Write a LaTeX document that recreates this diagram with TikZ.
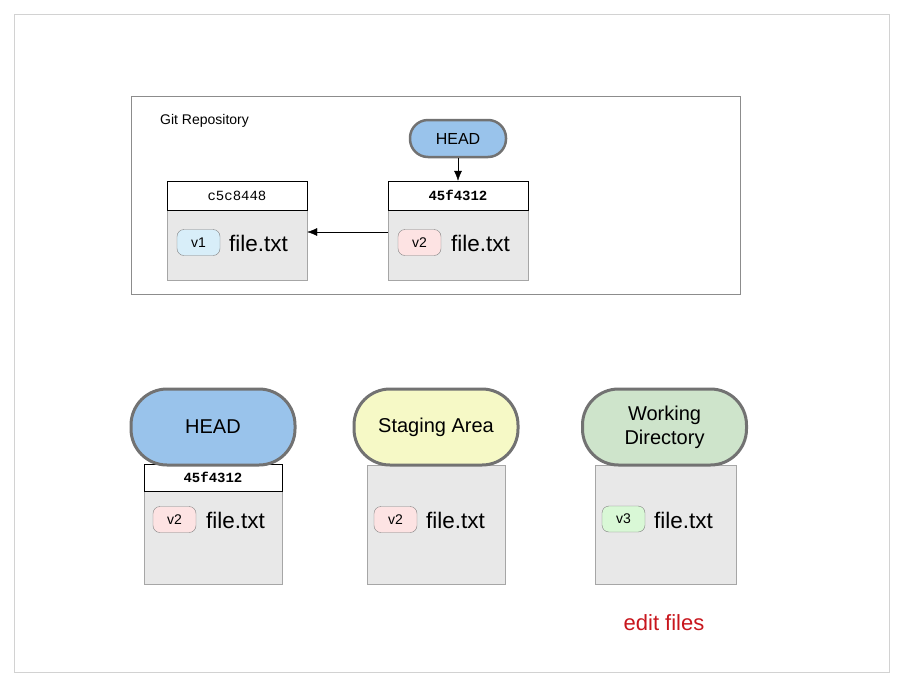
\documentclass[tikz,border=0pt]{standalone}
\usepackage{fontspec}
\setmainfont{Liberation Sans}
\setmonofont{Liberation Mono}
\usetikzlibrary{arrows.meta}
\definecolor{headblue}{HTML}{99C3EB}
\definecolor{stageyellow}{HTML}{F6F9C6}
\definecolor{workgreen}{HTML}{CEE4CB}
\definecolor{bodygray}{HTML}{E8E8E8}
\definecolor{pillgray}{HTML}{727272}
\definecolor{tagblue}{HTML}{D8EEF9}
\definecolor{tagpink}{HTML}{FDE3E3}
\definecolor{taggreen}{HTML}{D9F8D6}
\definecolor{editred}{HTML}{C8161D}
\begin{document}
\begin{tikzpicture}[x=1pt,y=-1pt]
  \tikzset{
    pill/.style={rounded corners=36pt, draw=pillgray, line width=3pt, minimum width=164pt,
      minimum height=76pt, inner sep=0pt, align=center, font=\fontsize{20}{24}\selectfont},
    small pill/.style={pill, rounded corners=18pt, line width=2.5pt, minimum width=96pt,
      minimum height=37pt, font=\fontsize{16}{19}\selectfont},
    body/.style={draw=gray!70, fill=bodygray, minimum width=138pt, inner sep=0pt},
    hash/.style={draw=black, fill=white, minimum width=138pt, minimum height=27pt, inner sep=0pt,
      font=\ttfamily\fontsize{14}{16}\selectfont},
    tag/.style={draw=gray, rounded corners=7pt, minimum width=43pt, minimum height=26pt,
      inner sep=0pt, font=\fontsize{14}{16}\selectfont},
    file/.style={anchor=west, inner sep=0pt, font=\fontsize{22.5}{26}\selectfont}
  }
  \useasboundingbox (0,0) rectangle (903,686);
  \draw[gray!35] (14,14) rectangle (889,672);

  % repository
  \draw[gray!90] (131,96) rectangle (740,294);
  \node[anchor=west, inner sep=0pt, font=\fontsize{14}{16}\selectfont] (repo) at (160,121) {Git Repository};
  \node[body, minimum width=140pt, minimum height=70pt] (c1body) at (237,245) {};
  \node[hash, minimum width=140pt, minimum height=29pt] (c1hash) at (237,195.5) {c5c8448};
  \node[tag, fill=tagblue] (c1tag) at (198.5,242.5) {v1};
  \node[file] (c1file) at (229,243) {file.txt};
  \node[body, minimum width=140pt, minimum height=70pt] (c2body) at (458,245) {};
  \node[hash, minimum width=140pt, minimum height=29pt] (c2hash) at (458,195.5) {\textbf{45f4312}};
  \node[tag, fill=tagpink] (c2tag) at (419.5,242.5) {v2};
  \node[file] (c2file) at (451,243) {file.txt};
  \node[small pill, fill=headblue] (headtop) at (458,138.5) {HEAD};
  \draw[-{Latex[length=10pt,width=8pt]}] (headtop) -- (c2hash);
  \draw[-{Latex[length=10pt,width=8pt]}] ([yshift=13pt]c2body.west) -- ([yshift=13pt]c1body.east);

  % HEAD
  \node[body, minimum height=93pt] (headbody) at (213,537.5) {};
  \node[hash] (headhash) at (213,477.5) {\textbf{45f4312}};
  \node[tag, fill=tagpink] (headtag) at (174.5,519.5) {v2};
  \node[file] (headfile) at (206,520) {file.txt};
  \node[pill, fill=headblue] (head) at (213,427) {HEAD};

  % staging area
  \node[body, minimum height=119pt] (stagebody) at (436,524.5) {};
  \node[tag, fill=tagpink] (stagetag) at (395.5,519.5) {v2};
  \node[file] (stagefile) at (426,520) {file.txt};
  \node[pill, fill=stageyellow] (stage) at (436,427) {Staging Area};

  % working directory
  \node[body, minimum width=141pt, minimum height=119pt] (workbody) at (665.5,524.5) {};
  \node[tag, fill=taggreen] (worktag) at (623.5,519) {v3};
  \node[file] (workfile) at (654,520) {file.txt};
  \node[pill, fill=workgreen] (work) at (664.5,427) {Working\\Directory};
  \node[text=editred, font=\fontsize{22}{26}\selectfont] (edit) at (664,623) {edit files};
\end{tikzpicture}
\end{document}
